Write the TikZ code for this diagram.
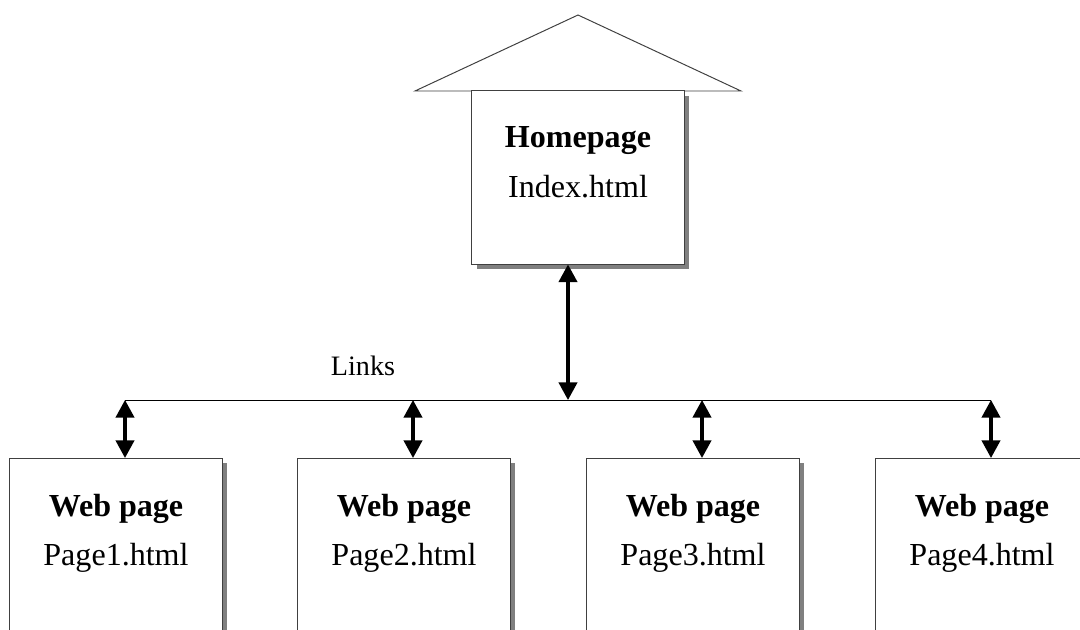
\documentclass[tikz,border=0pt]{standalone}
\usepackage{fontspec}
\setmainfont{Liberation Serif}
\usetikzlibrary{arrows.meta,shadows}

\tikzset{
  pagebox/.style={draw=black!75, line width=0.7pt, fill=white, inner sep=0pt,
    minimum width=5.3cm, minimum height=4.55cm,
    drop shadow={shadow xshift=0.125cm, shadow yshift=-0.125cm, fill=gray, opacity=1}},
  homebox/.style={pagebox, minimum height=4.325cm},
  titletext/.style={anchor=base, inner sep=0pt, font=\fontsize{22.8pt}{27pt}\selectfont\bfseries},
  filetext/.style={anchor=base, inner sep=0pt, font=\fontsize{22.8pt}{27pt}\selectfont},
  linkarrow/.style={line width=2.2pt, {Triangle[length=12.5pt,width=13pt]}-{Triangle[length=12.5pt,width=13pt]}}
}

\begin{document}
\begin{tikzpicture}[x=0.025cm,y=-0.025cm]
	\clip (0,0) rectangle (1080,630);
	%draw roof
	\draw[black!75, line width=0.7pt, fill=white] (415,91) -- (578,15) -- (741,91) -- cycle;
	%draw homepage box
	\node[homebox] (home) at (578,177.5) {};
	\node[titletext] (hometitle) at (578,148) {Homepage};
	\node[filetext] (homefile) at (578,198) {Index.html};
	%draw link hub
	\coordinate (hub) at ([xshift=-0.25cm]home.south |- 0,400);
	\draw[linkarrow] ([xshift=-0.25cm]home.south) -- (hub);
	\node[font=\fontsize{20pt}{24pt}\selectfont] (links) at (363,366) {Links};
	%draw web pages
	\foreach \i/\x in {1/116,2/404,3/693,4/982}{
		\node[pagebox] (page\i) at (\x,549.5) {};
		\node[titletext] (title\i) at (\x,516) {Web page};
		\node[filetext] (file\i) at (\x,565) {Page\i.html};
		\coordinate (tap\i) at ([xshift=0.225cm]page\i.north |- hub);
		\draw[linkarrow] (tap\i) -- ([xshift=0.225cm]page\i.north);
	}
	%draw horizontal line
	\draw[line width=0.7pt] (tap1) -- (tap4);
\end{tikzpicture}
\end{document}
